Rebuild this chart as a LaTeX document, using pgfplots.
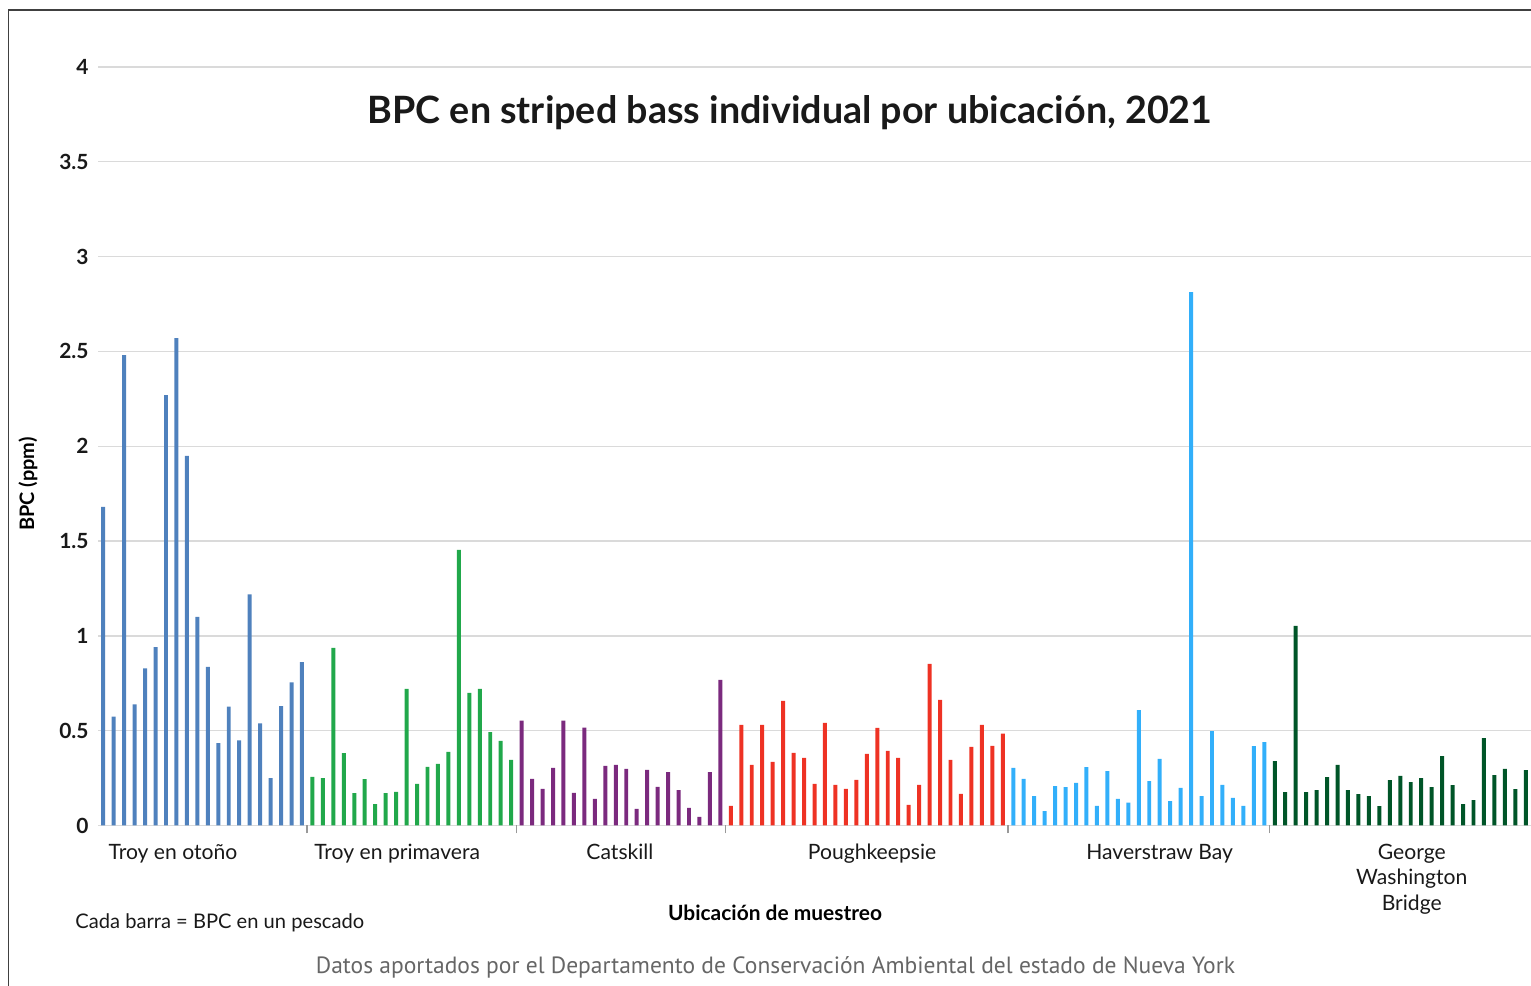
\documentclass[border=0pt]{standalone}
\usepackage{pgfplots}
\pgfplotsset{compat=1.18}
\usepackage{fontspec}
\setmainfont{Lato}
\newfontfamily\srcfont{PT Sans}

\definecolor{cBlue}{RGB}{79,129,189}
\definecolor{cGreen}{RGB}{33,168,75}
\definecolor{cPurple}{RGB}{123,42,126}
\definecolor{cRed}{RGB}{238,50,36}
\definecolor{cSky}{RGB}{50,175,250}
\definecolor{cDark}{RGB}{0,85,40}
\definecolor{gridgray}{RGB}{218,218,218}

\begin{document}
\begin{tikzpicture}[x=1bp,y=1bp]
\useasboundingbox (0,0) rectangle (765.5,493);
% frame (only left and top edges visible in the crop)
\draw[line width=0.6bp, black!75] (4.15,-2) -- (4.15,488) -- (770,488);

\begin{axis}[
    at={(49bp,80.25bp)}, anchor=south west,
    scale only axis,
    width=716.5bp, height=379.25bp,
    xmin=0.5, xmax=137.5,
    ymin=0, ymax=4,
    axis line style={draw=none},
    ytick={0,0.5,1,1.5,2,2.5,3,3.5,4},
    yticklabels={0,0.5,1,1.5,2,2.5,3,3.5,4},
    yticklabel style={font=\bfseries\fontsize{10.5}{12}\selectfont, inner sep=0pt, xshift=-4.5bp, text=black!90},
    ymajorgrids,
    major grid style={gridgray, line width=0.7bp},
    major tick length=0pt,
    xtick pos=lower,
    xtick={7.67,29.1,50.4,74.5,102,126.1},
    xticklabels={Troy en otoño,Troy en primavera,Catskill,Poughkeepsie,Haverstraw Bay,George\\Washington\\Bridge},
    xticklabel style={font=\fontsize{10.6}{12.75}\selectfont, align=center, anchor=north, inner sep=0pt, yshift=-9bp, text=black!90},
    minor xtick={20.5,40.5,60.5,87.5,112.5},
    minor x tick style={black!40, line width=0.8bp},
    minor tick length=4bp,
    tick align=outside,
    clip=false,
]
\pgfplotsset{every axis plot/.append style={ybar, bar width=0.38, bar shift=0pt, draw=none}}

\addplot[fill=cBlue] coordinates {
(1,1.68) (2,0.574) (3,2.48) (4,0.639) (5,0.829) (6,0.94) (7,2.27) (8,2.57) (9,1.949) (10,1.10)
(11,0.836) (12,0.435) (13,0.627) (14,0.449) (15,1.219) (16,0.539) (17,0.25) (18,0.63) (19,0.755) (20,0.862)};

\addplot[fill=cGreen] coordinates {
(21,0.256) (22,0.25) (23,0.936) (24,0.382) (25,0.171) (26,0.245) (27,0.113) (28,0.171) (29,0.177) (30,0.72)
(31,0.219) (32,0.309) (33,0.325) (34,0.388) (35,1.453) (36,0.699) (37,0.72) (38,0.493) (39,0.446) (40,0.346)};

\addplot[fill=cPurple] coordinates {
(41,0.553) (42,0.246) (43,0.193) (44,0.304) (45,0.553) (46,0.172) (47,0.516) (48,0.141) (49,0.315) (50,0.32)
(51,0.298) (52,0.088) (53,0.293) (54,0.203) (55,0.282) (56,0.187) (57,0.093) (58,0.045) (59,0.282) (60,0.768)};

\addplot[fill=cRed] coordinates {
(61,0.104) (62,0.531) (63,0.32) (64,0.531) (65,0.335) (66,0.657) (67,0.383) (68,0.357) (69,0.22) (70,0.541)
(71,0.214) (72,0.193) (73,0.24) (74,0.378) (75,0.515) (76,0.394) (77,0.357) (78,0.109) (79,0.214) (80,0.852)
(81,0.663) (82,0.346) (83,0.167) (84,0.415) (85,0.531) (86,0.42) (87,0.484)};

\addplot[fill=cSky] coordinates {
(88,0.304) (89,0.246) (90,0.155) (91,0.076) (92,0.208) (93,0.202) (94,0.225) (95,0.308) (96,0.103) (97,0.287)
(98,0.14) (99,0.12) (100,0.609) (101,0.234) (102,0.351) (103,0.129) (104,0.199) (105,2.813) (106,0.155) (107,0.498)
(108,0.214) (109,0.146) (110,0.103) (111,0.419) (112,0.44)};

\addplot[fill=cDark] coordinates {
(113,0.34) (114,0.176) (115,1.053) (116,0.176) (117,0.187) (118,0.255) (119,0.319) (120,0.187) (121,0.165) (122,0.155)
(123,0.102) (124,0.239) (125,0.261) (126,0.229) (127,0.25) (128,0.202) (129,0.366) (130,0.213) (131,0.113) (132,0.134)
(133,0.461) (134,0.266) (135,0.298) (136,0.192) (137,0.292)};
\end{axis}

% title
\node[font=\bfseries\fontsize{18.9}{22}\selectfont, text=black!90] at (395,436.5) {BPC en striped bass individual por ubicación, 2021};
% y label
\node[font=\bfseries\fontsize{10}{12}\selectfont, rotate=90] at (14,251) {BPC (ppm)};
% x label
\node[font=\bfseries\fontsize{10.5}{12}\selectfont] at (387.5,36.5) {Ubicación de muestreo};
\node[font=\fontsize{10.1}{12}\selectfont, anchor=west, inner sep=0pt, text=black!90] at (37.5,31.5) {Cada barra = BPC en un pescado};
% source
\node[font=\srcfont\fontsize{11.8}{14}\selectfont, text=black!60] at (387.75,9.5) {Datos aportados por el Departamento de Conservación Ambiental del estado de Nueva York};
\end{tikzpicture}
\end{document}
